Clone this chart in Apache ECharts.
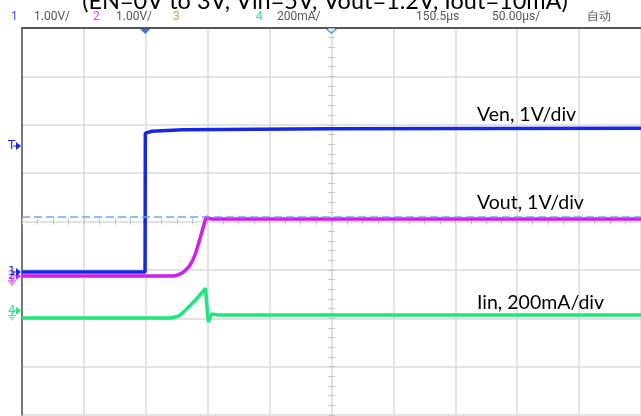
<!DOCTYPE html>
<html>
<head>
<meta charset="utf-8">
<script src="https://cdn.jsdelivr.net/npm/echarts@6/dist/echarts.min.js"></script>
<style>
  html, body { margin: 0; padding: 0; background: #fff; }
  #chart { width: 641px; height: 416px; }
</style>
</head>
<body>
<div id="chart"></div>
<script>
// time in µs relative to screen centre (50 µs/div), values in channel units
const venTime  = [-250, -150.6, -150.4, -145, -120, 0, 250];
const venVolts = [0, 0, 2.87, 2.91, 2.94, 2.96, 2.97];

const voutTime  = [-250, -127.2, -123.2, -119.2, -115.2, -112, -109.8, -105.8, -101.3, -97.5, 250];
const voutVolts = [0, 0, 0.03, 0.09, 0.19, 0.33, 0.47, 0.81, 1.22, 1.18, 1.18];

const iinTime = [-250, -129.6, -123.2, -117.8, -109.8, -101.8, -101.1, -100.3, -99.5, -98.3, -96.7, -91, 250];
const iinMA   = [0, 0, 8, 33, 74, 123, 128, 25, -17, 0, 17, 12, 12];

const cursorVout = 1.226; // dashed cursor, V on channel 2

// channel ground offsets (div from centre) and scale (units/div)
const ch1 = { offset: -1.044, scale: 1 };
const ch2 = { offset: -1.127, scale: 1 };
const ch4 = { offset: -1.995, scale: 200 };
const triggerLevel = 1.56;   // div
const triggerTime = -150.5;  // µs

const headerItems = [
  { text: '1', x: 11, color: '#3b4fe0' },
  { text: '1.00V/', x: 34, color: '#555' },
  { text: '2', x: 93, color: '#e040f0' },
  { text: '1.00V/', x: 116, color: '#555' },
  { text: '3', x: 173, color: '#c9a25a' },
  { text: '4', x: 256, color: '#3fe08a' },
  { text: '200mA/', x: 277, color: '#555' },
  { text: '150.5µs', x: 416, color: '#555' },
  { text: '50.00µs/', x: 492, color: '#555' },
  { text: '自动', x: 587, color: '#555' }
];

const title = '(EN=0V to 3V, Vin=5V, Vout=1.2V, Iout=10mA)';
const labels = [
  { text: 'Ven, 1V/div', y: 115 },
  { text: 'Vout, 1V/div', y: 203 },
  { text: 'Iin, 200mA/div', y: 303 }
];

const BLUE = '#1428e6';
const MAGENTA = '#d01ef0';
const GREEN = '#1ee87c';

const toDiv = (ch, ts, vs) => ts.map((t, i) => [t, ch.offset + vs[i] / ch.scale]);

const chart = echarts.init(document.getElementById('chart'));

const gridLine = { show: true, lineStyle: { color: '#dadada', width: 1.5 } };
const noAxis = { axisLine: { show: false }, axisTick: { show: false }, axisLabel: { show: false }, splitLine: { show: false } };

const centreTicks = (interval) => ({
  type: 'value', interval,
  axisLine: { show: false, onZero: true },
  axisTick: { show: true, length: 3, lineStyle: { color: '#bdbdbd', width: 1 } },
  axisLabel: { show: false }, splitLine: { show: false }
});

const option = {
  animation: false,
  backgroundColor: '#fff',
  grid: { left: 22, top: 28, width: 623, height: 387, show: false },
  xAxis: [
    { type: 'value', min: -250, max: 250, interval: 50, ...noAxis, splitLine: gridLine },
    { type: 'value', min: -250, max: 250, position: 'top', ...noAxis,
      axisLine: { show: true, onZero: false, lineStyle: { color: '#555', width: 2 } } },
    { ...centreTicks(12.5), min: -250, max: 250, position: 'bottom' },
    { ...centreTicks(12.5), min: -250, max: 250, position: 'top' }
  ],
  yAxis: [
    { type: 'value', min: -4, max: 4, interval: 1, ...noAxis, splitLine: gridLine },
    { type: 'value', min: -4, max: 4, position: 'left', ...noAxis,
      axisLine: { show: true, onZero: false, lineStyle: { color: '#555', width: 1.5 } } },
    { ...centreTicks(0.2), min: -4, max: 4, position: 'left' },
    { ...centreTicks(0.2), min: -4, max: 4, position: 'right' }
  ],
  series: [
    {
      name: 'Iin', type: 'line', symbol: 'none', clip: true,
      data: toDiv(ch4, iinTime, iinMA),
      lineStyle: { color: GREEN, width: 3.5 }
    },
    {
      name: 'Vout', type: 'line', symbol: 'none', clip: true,
      data: toDiv(ch2, voutTime, voutVolts),
      lineStyle: { color: MAGENTA, width: 3.5 },
      markLine: {
        silent: true, symbol: 'none', label: { show: false },
        lineStyle: { color: '#6aa6f2', type: [8, 4], width: 1.5 },
        data: [{ yAxis: ch2.offset + cursorVout }]
      }
    },
    {
      name: 'Ven', type: 'line', symbol: 'none', clip: true,
      data: toDiv(ch1, venTime, venVolts),
      lineStyle: { color: BLUE, width: 3.5 }
    }
  ]
};

chart.setOption(option);

// decorations placed from the axes
const px = (x, y) => chart.convertToPixel({ xAxisIndex: 0, yAxisIndex: 0 }, [x, y]);
const g = [];

g.push({
  type: 'text', x: 325, y: -11,
  style: { text: title, font: '23.5px Lato', fill: '#000', align: 'center' }
});
headerItems.forEach(h => g.push({
  type: 'text', x: h.x, y: 17,
  style: { text: h.text, font: '12px Roboto', fill: h.color, verticalAlign: 'middle' }
}));
labels.forEach(l => g.push({
  type: 'text', x: 477, y: l.y,
  style: { text: l.text, font: '19.5px Lato', fill: '#000', verticalAlign: 'middle' }
}));

// trigger position markers on the top border
const tx = px(triggerTime, 0)[0];
g.push({ type: 'polygon', shape: { points: [[tx - 6, 28], [tx + 6, 28], [tx, 34]] }, style: { fill: '#2a7be0' } });
const cx = px(0, 0)[0];
g.push({ type: 'polyline', shape: { points: [[cx - 5, 29], [cx, 33], [cx + 5, 29]] }, style: { stroke: '#4a9be8', lineWidth: 1.5, fill: null } });

// channel markers at the left edge
function chMarker(label, color, level, ground) {
  const y = px(-250, level)[1];
  g.push({ type: 'text', x: 8, y: y, style: { text: label, font: '12px "DejaVu Sans"', fill: color, verticalAlign: 'middle' } });
  g.push({ type: 'polygon', shape: { points: [[16, y - 4], [21, y], [16, y + 4]] }, style: { fill: color } });
  g.push({ type: 'line', shape: { x1: 13, y1: y, x2: 16, y2: y }, style: { stroke: color, lineWidth: 1 } });
  if (ground) {
    g.push({ type: 'line', shape: { x1: 12, y1: y + 1, x2: 12, y2: y + 5 }, style: { stroke: color, lineWidth: 1 } });
    g.push({ type: 'line', shape: { x1: 8, y1: y + 5, x2: 16, y2: y + 5 }, style: { stroke: color, lineWidth: 1 } });
    g.push({ type: 'line', shape: { x1: 9.5, y1: y + 7, x2: 14.5, y2: y + 7 }, style: { stroke: color, lineWidth: 1 } });
    g.push({ type: 'line', shape: { x1: 11, y1: y + 9, x2: 13, y2: y + 9 }, style: { stroke: color, lineWidth: 1 } });
  }
}
chMarker('T', BLUE, triggerLevel, false);
chMarker('2', MAGENTA, ch2.offset, true);
chMarker('1', BLUE, ch1.offset, false);
chMarker('4', '#2ee08a', ch4.offset + 0.15, true);

chart.setOption({ graphic: { elements: g } });
</script>
</body>
</html>
